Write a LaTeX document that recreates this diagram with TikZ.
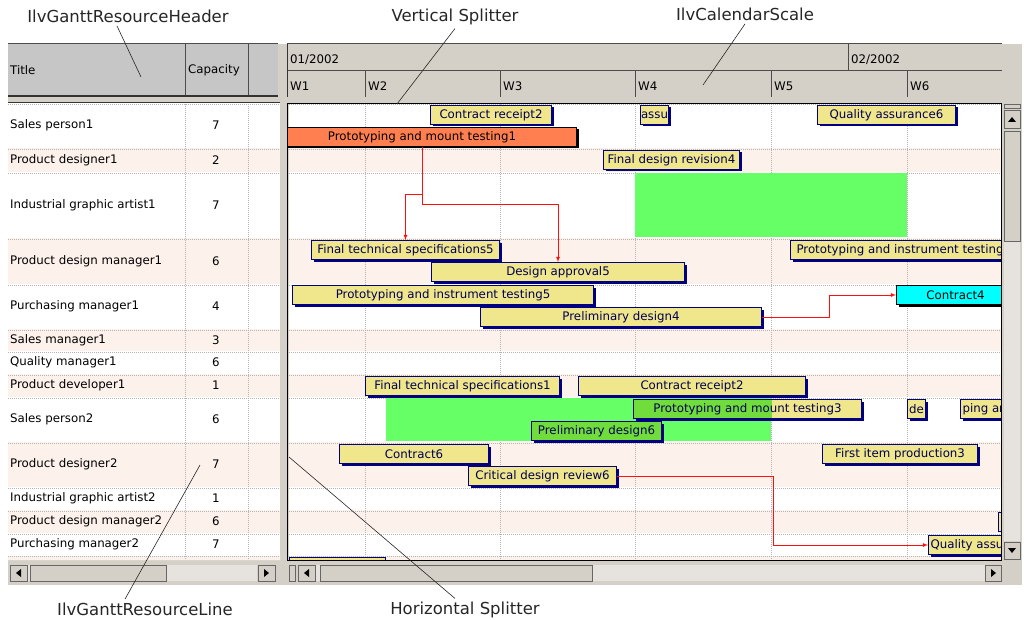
\documentclass[tikz,border=0pt]{standalone}
\usepackage{fontspec}
\setmainfont{DejaVu Sans}
\usetikzlibrary{shadows}

\definecolor{winface}{HTML}{D4D0C8}
\definecolor{headface}{HTML}{C6C6C6}
\definecolor{trough}{HTML}{E6E3DE}
\definecolor{rowpink}{HTML}{FDF1EC}
\definecolor{gridgray}{HTML}{B4B4B4}
\definecolor{barfill}{HTML}{F0E68C}
\definecolor{barline}{HTML}{000080}
\definecolor{bartext}{HTML}{000050}
\definecolor{coralbar}{HTML}{FF7F50}
\definecolor{cyanbar}{HTML}{00FFFF}
\definecolor{hatchgreen}{HTML}{66FF66}
\definecolor{overgreen}{HTML}{70DD3C}
\definecolor{linkred}{HTML}{FF1010}

\newcommand{\guisize}{\fontsize{11.8}{13}\selectfont}
\newcommand{\notesize}{\fontsize{16.5}{19}\selectfont}

\begin{document}
\begin{tikzpicture}[x=1pt, y=-1pt, font=\guisize,
	bar/.style={draw=barline, line width=1pt, fill=barfill, text=bartext, inner sep=0pt,
		minimum height=19pt, anchor=north west,
		general shadow={shadow xshift=2pt, shadow yshift=-2pt, fill=barline}},
	plainbar/.style={bar, draw=black, text=black,
		general shadow={shadow xshift=2pt, shadow yshift=-2pt, fill=black}},
	cutbar/.style={bar, inner xsep=2pt},
	link/.style={draw=linkred, line width=0.8pt, -latex},
	note/.style={font=\notesize, text=black!85},
	pointer/.style={draw=black!85, line width=0.6pt},
	gridline/.style={draw=gridgray, line width=0.6pt, dash pattern=on 1pt off 1pt},
	button/.style={fill=winface, draw=black!60, line width=0.6pt},
	]
	\useasboundingbox (0,0) rectangle (1024,620);
	\fill[white] (0,0) rectangle (1024,620);
	\fill[winface] (8,44) rectangle (1022,585);
	
	% resource header
	\fill[headface] (8,44) rectangle (278,95);
	\draw[black!70, line width=1pt] (8,44) -- (278,44);
	\draw[black!80, line width=1.6pt] (8,96) -- (278,96);
	\draw[black!70] (185,44) -- (185,95) (248,44) -- (248,95);
	\node[anchor=west, inner sep=2pt] (title) at (8,70) {Title};
	\node[anchor=west, inner sep=2pt] (capacity) at (186,70) {Capacity};
	
	% calendar scale
	\draw[black!70, line width=1pt] (287,44) -- (1002,44);
	\draw[black!70] (287,70) -- (1002,70) (848,44) -- (848,70);
	\foreach \x in {365,500,635,771,907}
		\draw[black!70] (\x,70) -- (\x,97);
	\draw[black!80, line width=1pt] (287,44) -- (287,97);
	\node[anchor=west, inner sep=2pt] (jan) at (288,60) {01/2002};
	\node[anchor=west, inner sep=2pt] (feb) at (849,60) {02/2002};
	\foreach \x/\w in {288/W1,366/W2,501/W3,636/W4,772/W5,908/W6}
		\node[anchor=west, inner sep=2pt] (\w) at (\x,86) {\w};
	
	% resource lines
	\fill[white] (8,103) rectangle (280,560);
	\fill[white] (289,104) rectangle (1001,560);
	\foreach \t/\b/\s/\n/\k [count=\i] in {
		103/148/white/Sales person1/7,
		148/172/rowpink/Product designer1/2,
		172/238/white/Industrial graphic artist1/7,
		238/284/rowpink/Product design manager1/6,
		284/329/white/Purchasing manager1/4,
		329/351/rowpink/Sales manager1/3,
		351/374/white/Quality manager1/6,
		374/397/rowpink/Product developer1/1,
		397/442/white/Sales person2/6,
		442/487/rowpink/Product designer2/7,
		487/510/white/Industrial graphic artist2/1,
		510/533/rowpink/Product design manager2/6,
		533/556/white/Purchasing manager2/7}
	{
		\fill[\s] (8,\t) rectangle (280,\b);
		\fill[\s] (289,\t) rectangle (1001,\b);
		\draw[gridline] (8,\t+1) -- (280,\t+1) (289,\t+1) -- (1001,\t+1);
		\node[anchor=west, inner sep=2pt] (res\i) at (8,{(\t+\b)/2}) {\n};
		\node (cap\i) at (216,{(\t+\b)/2}) {\k};
	}
	\fill[rowpink] (8,556) rectangle (280,560) (289,556) rectangle (1001,560);
	\draw[gridline] (8,556) -- (280,556) (289,556) -- (1001,556);
	\foreach \x in {185,248}
		\draw[gridline] (\x,104) -- (\x,560);
	\foreach \x in {365,500,635,771,907}
		\draw[gridline] (\x,104) -- (\x,560);
	
	% gantt sheet
	\begin{scope}
		\clip (288,104) rectangle (1001,559);
		\fill[hatchgreen] (635,173) rectangle (907,237);
		\fill[hatchgreen] (386,398) rectangle (771,441);
		
		\node[bar, minimum width=121pt] (receipt2a) at (430,105) {Contract receipt2};
		\node[bar, minimum width=28pt] (assu) at (640,105) {assu};
		\node[bar, minimum width=138pt] (quality6) at (817,105) {Quality assurance6};
		\node[plainbar, fill=coralbar, minimum width=309pt] (mount1) at (267,127) {Prototyping and mount testing1};
		\node[bar, minimum width=136pt] (revision4) at (603,150) {Final design revision4};
		\node[bar, minimum width=188pt] (specs5) at (311,240) {Final technical specifications5};
		\node[cutbar, inner xsep=6pt] (instr6) at (790,240) {Prototyping and instrument testing};
		\node[bar, minimum width=253pt] (approval5) at (431,262) {Design approval5};
		\node[bar, minimum width=301pt] (instr5) at (292,285) {Prototyping and instrument testing5};
		\node[bar, minimum width=281pt] (prelim4) at (480,307) {Preliminary design4};
		\node[plainbar, fill=cyanbar, minimum width=118pt] (contract4) at (896,285) {Contract4};
		\node[bar, minimum width=194pt] (specs1) at (365,376) {Final technical specifications1};
		\node[bar, minimum width=227pt] (receipt2) at (578,376) {Contract receipt2};
		\node[bar, fill=overgreen, minimum width=228pt,
			path picture={\fill[barfill] ([xshift=-90pt]path picture bounding box.north east) rectangle (path picture bounding box.south east);}]
			(mount3) at (633,399) {Prototyping and mount testing3};
		\node[bar, minimum width=18pt] (de) at (907,399) {de};
		\node[cutbar] (ping) at (960,399) {ping ar};
		\node[bar, fill=overgreen, minimum width=130pt] (prelim6) at (531,421) {Preliminary design6};
		\node[bar, minimum width=149pt] (contract6) at (339,444) {Contract6};
		\node[bar, minimum width=155pt] (first3) at (822,444) {First item production3};
		\node[bar, minimum width=148pt] (review6) at (468,466) {Critical design review6};
		\node[bar, minimum width=12pt] (sliver) at (998,512) {};
		\node[cutbar] (quality) at (928,535) {Quality assu};
		\node[bar, minimum width=96pt] (lastbar) at (289,557) {};
		
		\draw[link] (mount1.south) -- ++(0,47) -| (specs5.north);
		\draw[link] (mount1.south) -- ++(0,57) -| (approval5.north);
		\draw[link] (prelim4.east) -- ++(67,0) |- (contract4.west);
		\draw[link] (review6.east) -- ++(156,0) |- (quality.west);
	\end{scope}
	\draw[black, line width=1.5pt] (287.5,560.5) -- (287.5,103.5) -- (1001.5,103.5) -- (1001.5,560.5) -- cycle;
	\draw[black!80, line width=1pt] (8,103) -- (280,103);
	
	% scroll bars
	\fill[trough] (1004,242) rectangle (1020,541);
	\draw[button] (1004,104) rectangle (1020,108);
	\draw[button] (1004,110) rectangle (1020,128);
	\fill (1008,122) -- (1016,122) -- (1012,117) -- cycle;
	\draw[button] (1004,131) rectangle (1020,241);
	\draw[button] (1004,542) rectangle (1020,559);
	\fill (1008,548) -- (1016,548) -- (1012,553) -- cycle;
	
	\fill[trough] (316,565) rectangle (985,581);
	\draw[button] (289,565) rectangle (295,581);
	\draw[button] (298,565) rectangle (315,581);
	\fill (309,569) -- (309,577) -- (304,573) -- cycle;
	\draw[button] (320,565) rectangle (592,581);
	\draw[button] (985,565) rectangle (1001,581);
	\fill (991,569) -- (991,577) -- (996,573) -- cycle;
	
	\fill[trough] (28,565) rectangle (257,581);
	\draw[button] (10,565) rectangle (27,581);
	\fill (21,569) -- (21,577) -- (16,573) -- cycle;
	\draw[button] (30,565) rectangle (166,581);
	\draw[button] (258,565) rectangle (275,581);
	\fill (264,569) -- (264,577) -- (269,573) -- cycle;
	
	% callouts
	\node[note] (headernote) at (128,16) {IlvGanttResourceHeader};
	\node[note] (splitnote) at (455,17) {Vertical Splitter};
	\node[note] (scalenote) at (745,14) {IlvCalendarScale};
	\node[note] (linenote) at (145,609) {IlvGanttResourceLine};
	\node[note] (hsplitnote) at (465,610) {Horizontal Splitter};
	\coordinate (headertip) at (141,77);
	\coordinate (splittip) at (397,104);
	\coordinate (scaletip) at (703,85);
	\coordinate (linetip) at (200,465);
	\coordinate (hsplittip) at (289,457);
	\draw[pointer] ([xshift=-11pt]headernote.south) -- (headertip);
	\draw[pointer] (splitnote.south) -- (splittip);
	\draw[pointer] (scalenote.south) -- (scaletip);
	\draw[pointer] ([xshift=-20pt]linenote.north) -- (linetip);
	\draw[pointer] ([xshift=-10pt]hsplitnote.north) -- (hsplittip);
\end{tikzpicture}
\end{document}
